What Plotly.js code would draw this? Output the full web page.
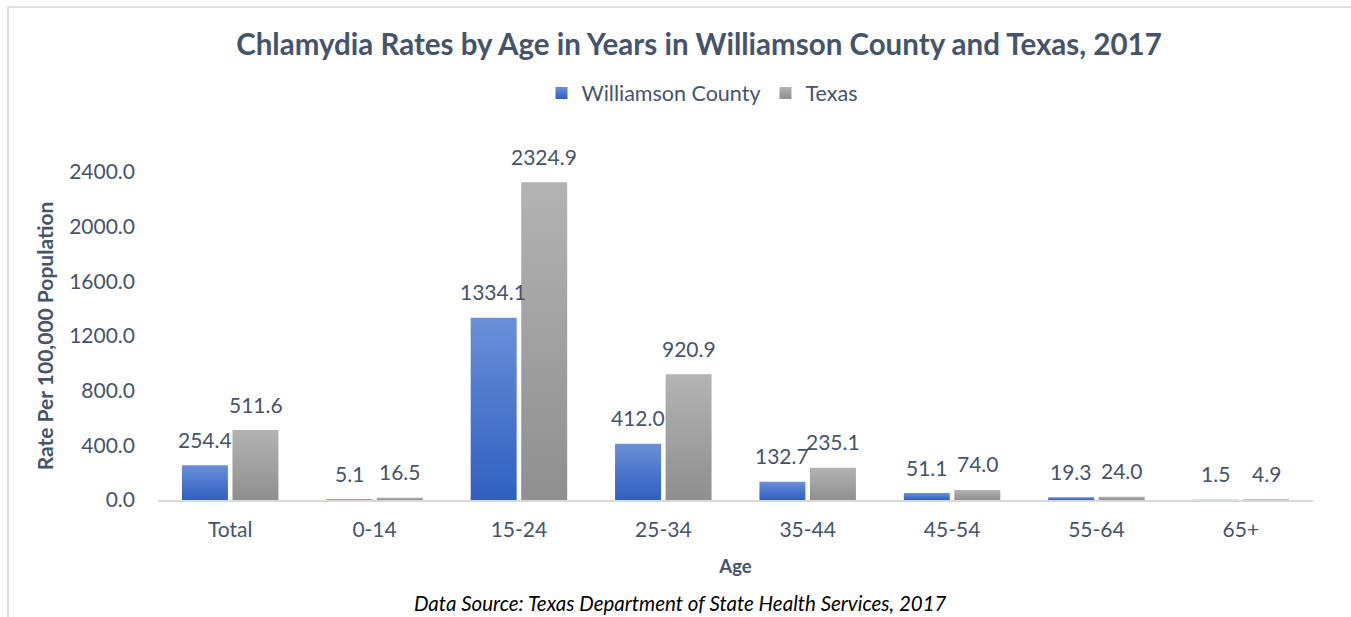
<!DOCTYPE html>
<html>
<head>
<meta charset="utf-8">
<script src="https://cdn.plot.ly/plotly-3.0.1.min.js"></script>
<style>
  html, body { margin: 0; padding: 0; background: #fff; }
  #wrap { position: relative; width: 1351px; height: 617px; overflow: hidden; }
  #chart { position: absolute; left: 0; top: 0; width: 1351px; height: 617px; }
  #frame { position: absolute; left: 7px; top: 6px; width: 1400px; height: 700px;
           border-left: 2px solid #DCE1E8; border-top: 2px solid #DCE1E8; pointer-events: none; }
</style>
</head>
<body>
<div id="wrap">
  <div id="chart"></div>
  <div id="frame"></div>
</div>
<script>
const categories = ["Total", "0-14", "15-24", "25-34", "35-44", "45-54", "55-64", "65+"];
const williamson = [254.4, 5.1, 1334.1, 412.0, 132.7, 51.1, 19.3, 1.5];
const texas = [511.6, 16.5, 2324.9, 920.9, 235.1, 74.0, 24.0, 4.9];
const seriesNames = ["Williamson County", "Texas"];
const yTicks = [0, 400, 800, 1200, 1600, 2000, 2400];

const FONT = "Lato, 'Open Sans', sans-serif";
const TXT = "#44546A";

const traces = [
  { type: "bar", name: seriesNames[0], x: categories, y: williamson,
    marker: { color: "#4A74C9" }, hoverinfo: "skip" },
  { type: "bar", name: seriesNames[1], x: categories, y: texas,
    marker: { color: "#A2A2A2" }, hoverinfo: "skip" }
];

const labelAnn = [];
[williamson, texas].forEach((arr, s) => {
  arr.forEach((v, i) => {
    labelAnn.push({
      xref: "x", yref: "y", x: categories[i], y: v,
      text: v.toFixed(1), showarrow: false,
      xshift: s === 0 ? -25.5 : 25.5, yshift: 26, yanchor: "middle",
      font: { family: FONT, size: 21, color: TXT }
    });
  });
});

labelAnn.push({
  xref: "paper", yref: "paper", x: (680 - 158) / 1155, y: (500 - 603) / 328,
  xanchor: "center", yanchor: "middle", showarrow: false,
  text: "<i>Data Source: Texas Department of State Health Services, 2017</i>",
  font: { family: FONT, size: 20.5, color: "#000000" }
});

const layout = {
  width: 1351, height: 617,
  margin: { l: 158, r: 38, t: 172, b: 117 },
  paper_bgcolor: "#ffffff", plot_bgcolor: "#ffffff",
  font: { family: FONT, color: TXT },
  title: {
    text: "<b>Chlamydia Rates by Age in Years in Williamson County and Texas, 2017</b>",
    font: { family: FONT, size: 29.5, color: TXT },
    xref: "container", yref: "container", x: 699 / 1351, y: 1 - 45 / 617,
    xanchor: "center", yanchor: "middle"
  },
  showlegend: true,
  legend: {
    orientation: "h", x: (702 - 158) / 1155, y: 1 + (172 - 93) / 328,
    xanchor: "center", yanchor: "middle",
    font: { family: FONT, size: 21.5, color: TXT },
    itemclick: false, itemdoubleclick: false
  },
  barmode: "group", bargap: 0.3, bargroupgap: 0.09,
  xaxis: {
    type: "category", showgrid: false, zeroline: false,
    showline: true, linecolor: "#D9D9D9", linewidth: 2,
    ticks: "", tickfont: { family: FONT, size: 21, color: TXT },
    ticklabelstandoff: 10,
    title: { text: "<b>Age</b>", font: { family: FONT, size: 18.5, color: TXT }, standoff: 20 },
    automargin: false
  },
  yaxis: {
    range: [0, 2400], tickvals: yTicks, tickformat: ".1f",
    showgrid: false, zeroline: false, showline: false, ticks: "",
    tickfont: { family: FONT, size: 21, color: TXT },
    ticklabelstandoff: 22,
    title: { text: "<b>Rate Per 100,000 Population</b>", font: { family: FONT, size: 21, color: TXT }, standoff: 9 },
    automargin: false
  },
  annotations: labelAnn
};

function addGradients(gd) {
  const svg = gd.querySelector("svg.main-svg");
  if (!svg) return;
  let defs = svg.querySelector("defs");
  if (!defs) { defs = document.createElementNS("http://www.w3.org/2000/svg", "defs"); svg.insertBefore(defs, svg.firstChild); }
  const grads = [["gBlue", "#6B8FD8", "#2F5FC0"], ["gGray", "#B3B3B3", "#8F8F8F"]];
  grads.forEach(([id, c1, c2]) => {
    if (svg.querySelector("#" + id)) return;
    const lg = document.createElementNS("http://www.w3.org/2000/svg", "linearGradient");
    lg.setAttribute("id", id); lg.setAttribute("x1", "0"); lg.setAttribute("y1", "0");
    lg.setAttribute("x2", "0"); lg.setAttribute("y2", "1");
    [[0, c1], [1, c2]].forEach(([o, c]) => {
      const st = document.createElementNS("http://www.w3.org/2000/svg", "stop");
      st.setAttribute("offset", o); st.setAttribute("stop-color", c);
      lg.appendChild(st);
    });
    defs.appendChild(lg);
  });
  gd.querySelectorAll(".barlayer .trace").forEach((t, i) => {
    t.querySelectorAll("path").forEach(p => { p.style.fill = "url(#" + grads[i % 2][0] + ")"; });
  });
  gd.querySelectorAll(".legend .traces").forEach((t, i) => {
    t.querySelectorAll(".legendpoints path").forEach(p => { p.style.fill = "url(#" + grads[i % 2][0] + ")"; });
  });
}

const gd = document.getElementById("chart");
Plotly.newPlot(gd, traces, layout, { displayModeBar: false, staticPlot: true }).then(() => addGradients(gd));
</script>
</body>
</html>
